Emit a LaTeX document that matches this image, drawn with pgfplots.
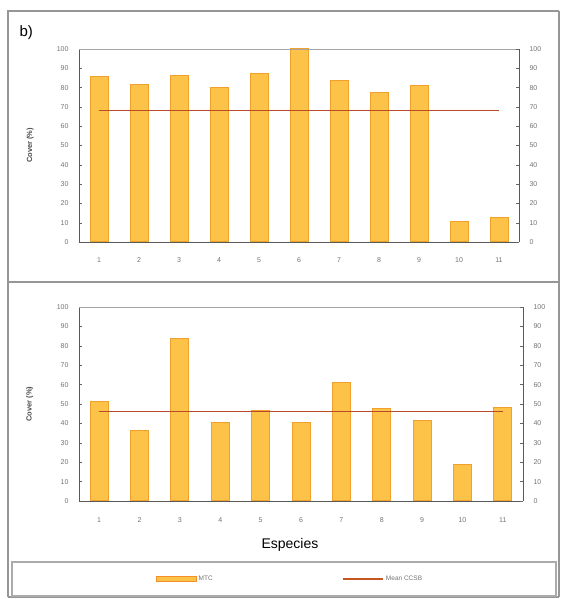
\documentclass[border=0pt]{standalone}
\usepackage{pgfplots}
\pgfplotsset{compat=1.18}
\usepackage{fontspec}
\setmainfont{Liberation Sans}
\definecolor{barfill}{RGB}{253,194,72}
\definecolor{baredge}{RGB}{242,160,45}
\definecolor{meanline}{RGB}{185,75,40}
\definecolor{framegray}{RGB}{150,150,150}
\definecolor{ticktext}{RGB}{115,115,115}
\pgfplotsset{
  common/.style={
    scale only axis,
    xmin=0.5, xmax=11.5, ymin=0, ymax=100,
    xtick={1,...,11},
    ytick={0,10,...,100},
    tick label style={font=\fontsize{7}{8}\selectfont, text=ticktext},
    yticklabel style={xshift=-7pt},
    /pgf/number format/assume math mode=true,
    major tick length=3pt,
    tick style={color=gray!80!black},
    axis line style={color=gray!70!black, line width=0.8pt},
    ylabel style={font=\bfseries\fontsize{7.5}{8}\selectfont, text=gray!60!black},
    clip=false,
  },
  rightax/.style={
    scale only axis,
    xmin=0.5, xmax=11.5, ymin=0, ymax=100,
    axis x line=none,
    axis y line*=right,
    ytick={0,10,...,100},
    tick label style={font=\fontsize{7}{8}\selectfont, text=ticktext},
    yticklabel style={xshift=7pt},
    /pgf/number format/assume math mode=true,
    major tick length=3pt,
    tick style={color=gray!80!black},
    axis line style={color=gray!70!black, line width=0.8pt},
  },
  barst/.style={ybar, bar width=18pt, fill=barfill, draw=baredge, line width=1pt},
  meanst/.style={color=meanline, line width=1.2pt, mark=none, sharp plot},
}
\begin{document}
\begin{tikzpicture}[x=1pt,y=1pt]
\useasboundingbox (0,0) rectangle (560,599);
% outer frame
\draw[framegray, line width=1.3pt] (8,2) -- (8,588) -- (559,588);
\draw[framegray, line width=1.3pt] (559,588) -- (559,2);
\draw[framegray, line width=1.3pt] (8,317) -- (559,317);
\draw[framegray, line width=1.3pt] (8,2) -- (559,2);
% legend box
\draw[framegray!80, line width=1.1pt] (12,3) rectangle (556,37);
\node[anchor=base west, font=\fontsize{15}{16}\selectfont] at (16,562) {b)};

% top panel
\begin{axis}[common, at={(79pt,357pt)}, anchor=south west, width=440pt, height=193pt,
  xticklabels={1,2,3,4,5,6,7,8,9,10,11},
  xticklabel style={yshift=-12pt},
  axis y line*=left, axis x line*=bottom,
  ylabel={Cover (\%)},
  ylabel style={at={(axis description cs:-0.095,0.5)}}]
\addplot[barst] coordinates {(1,86) (2,81.5) (3,86.5) (4,80) (5,87.5) (6,100) (7,83.5) (8,77.5) (9,81) (10,10.5) (11,12.5)};
\addplot[meanst] coordinates {(1,68) (11,68)};
\draw[gray!70, line width=0.8pt] (rel axis cs:0,1) -- (rel axis cs:1,1);
\end{axis}
\begin{axis}[rightax, at={(79pt,357pt)}, anchor=south west, width=440pt, height=193pt]
\end{axis}

% bottom panel
\begin{axis}[common, at={(79pt,98pt)}, anchor=south west, width=444pt, height=194pt,
  xticklabels={1,2,3,4,5,6,7,8,9,10,11},
  xticklabel style={yshift=-13pt},
  axis y line*=left, axis x line*=bottom,
  ylabel={Cover (\%)},
  ylabel style={at={(axis description cs:-0.095,0.5)}},
  xlabel={Especies},
  xlabel style={at={(axis description cs:0.475,-0.227)}, anchor=center, font=\fontsize{14}{15}\selectfont},
  legend style={at={(axis description cs:0.475,-0.402)}, anchor=center, draw=none, fill=none,
    font=\fontsize{6.5}{7}\selectfont, text=ticktext, legend columns=2,
    /tikz/every even column/.append style={column sep=128pt}},
  legend cell align=left]
\addplot[barst, legend image code/.code={\draw[fill=barfill, draw=baredge!90!red, line width=1pt] (0pt,-2.5pt) rectangle (40pt,2.5pt);}] coordinates {(1,51.5) (2,36.5) (3,84) (4,40.5) (5,46.5) (6,40.5) (7,61) (8,47.5) (9,41.5) (10,19) (11,48)};
\addlegendentry{MTC}
\addplot[meanst, line width=1pt, legend image code/.code={\draw[meanline!80!orange, line width=1.2pt] (0pt,0pt) -- (40pt,0pt);}] coordinates {(1,46) (11,46)};
\addlegendentry{Mean CCSB}
\draw[gray!70, line width=0.8pt] (rel axis cs:0,1) -- (rel axis cs:1,1);
\end{axis}
\begin{axis}[rightax, at={(79pt,98pt)}, anchor=south west, width=444pt, height=194pt]
\end{axis}
\end{tikzpicture}
\end{document}
